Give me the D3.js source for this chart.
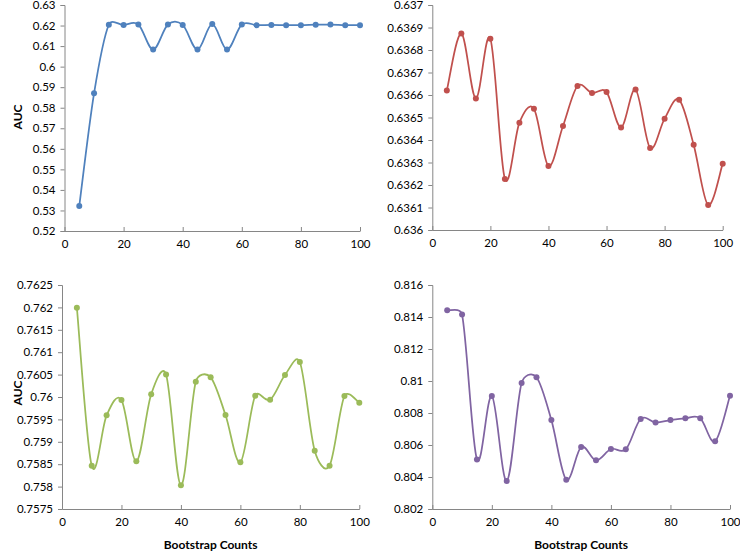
<!DOCTYPE html>
<html><head><meta charset="utf-8">
<script src="https://cdn.jsdelivr.net/npm/d3@7"></script>
<style>body{margin:0;background:#fff}svg{display:block}text{font-family:Lato,"Open Sans",sans-serif;fill:#000}</style>
</head><body>
<svg id="c" width="740" height="551"></svg>
<script>
const counts = [5,10,15,20,25,30,35,40,45,50,55,60,65,70,75,80,85,90,95,100];
const aucA = [0.5322,0.587,0.6204,0.6203,0.6205,0.6083,0.6205,0.6203,0.6083,0.6207,0.6083,0.6205,0.6202,0.6203,0.6202,0.6202,0.6204,0.6205,0.6202,0.6202];
const aucB = [0.63662,0.636873,0.636585,0.63685,0.636227,0.636477,0.636539,0.636284,0.636462,0.63664,0.636609,0.636613,0.636456,0.636624,0.636364,0.636495,0.636579,0.636379,0.636111,0.636295];
const aucC = [0.761994,0.758467,0.75959,0.759933,0.758564,0.76006,0.7605,0.758028,0.760342,0.760439,0.759598,0.758542,0.76003,0.75994,0.760491,0.760781,0.758802,0.758467,0.760022,0.759873];
const aucD = [0.81442,0.81415,0.8051,0.80906,0.80375,0.80987,0.81023,0.80756,0.80383,0.80588,0.80504,0.80575,0.80573,0.80763,0.8074,0.80756,0.80767,0.80767,0.80623,0.80908];
const xTicks = [0,20,40,60,80,100];
const yTicksA = [0.52,0.53,0.54,0.55,0.56,0.57,0.58,0.59,0.6,0.61,0.62,0.63];
const yTicksB = [0.636,0.6361,0.6362,0.6363,0.6364,0.6365,0.6366,0.6367,0.6368,0.6369,0.637];
const yTicksC = [0.7575,0.758,0.7585,0.759,0.7595,0.76,0.7605,0.761,0.7615,0.762,0.7625];
const yTicksD = [0.802,0.804,0.806,0.808,0.81,0.812,0.814,0.816];
const xLabel = "Bootstrap Counts";
const yLabel = "AUC";

// Spreadsheet-style smoothed line (Bezier with limited tangents)
function SmoothCurve(context){ this._context = context; }
SmoothCurve.prototype = {
  areaStart(){ this._line = 0; }, areaEnd(){ this._line = NaN; },
  lineStart(){ this._pts = []; },
  point(x,y){ this._pts.push([+x,+y]); },
  lineEnd(){
    const p = this._pts, c = this._context, n = p.length;
    if (!n) return;
    c.moveTo(p[0][0], p[0][1]);
    const dist = (a,b) => Math.hypot(a[0]-b[0], a[1]-b[1]);
    for (let i = 0; i < n-1; i++) {
      const p0 = p[i-1] || p[i], p1 = p[i], p2 = p[i+1], p3 = p[i+2] || p[i+1];
      const d12 = dist(p1,p2), d02 = dist(p0,p2), d13 = dist(p1,p3);
      let f1 = 1/6, f2 = 1/6;
      if (d02/6 > d12/2 && d02 > 0) f1 = d12/(2*d02);
      if (d13/6 > d12/2 && d13 > 0) f2 = d12/(2*d13);
      c.bezierCurveTo(p1[0] + f1*(p2[0]-p0[0]), p1[1] + f1*(p2[1]-p0[1]),
                      p2[0] - f2*(p3[0]-p1[0]), p2[1] - f2*(p3[1]-p1[1]),
                      p2[0], p2[1]);
    }
  }
};
const smoothCurve = ctx => new SmoothCurve(ctx);

const svg = d3.select("#c");
const panels = [
  {vals:aucA, ticks:yTicksA, color:"#4F81BD", x0:64.5, x1:360, yb:231, yt:5, ylabY:117, xlab:false},
  {vals:aucB, ticks:yTicksB, color:"#C0504D", x0:432.3, x1:722.7, yb:230, yt:5, ylabY:null, xlab:false},
  {vals:aucC, ticks:yTicksC, color:"#9BBB59", x0:62, x1:359.3, yb:509, yt:285, ylabY:393, xlab:true},
  {vals:aucD, ticks:yTicksD, color:"#8064A2", x0:432.3, x1:730, yb:509, yt:285, ylabY:null, xlab:true}
];
const fmt = v => String(+v.toFixed(5));
panels.forEach(p => {
  const x = d3.scaleLinear().domain([0,100]).range([p.x0,p.x1]);
  const y = d3.scaleLinear().domain([p.ticks[0], p.ticks[p.ticks.length-1]]).range([p.yb,p.yt]);
  const g = svg.append("g");
  const ya = g.append("g").attr("transform",`translate(${p.x0},0)`)
    .call(d3.axisLeft(y).tickValues(p.ticks).tickFormat(fmt).tickSize(4).tickPadding(5));
  const xa = g.append("g").attr("transform",`translate(0,${p.yb})`)
    .call(d3.axisBottom(x).tickValues(xTicks).tickFormat(d3.format("d")).tickSizeInner(-4).tickSizeOuter(0).tickPadding(9));
  [ya,xa].forEach(a => {
    a.selectAll("path,line").attr("stroke","#868686").attr("stroke-width",1);
    a.selectAll("text").attr("font-size",11.5).attr("font-family","Lato, 'Open Sans', sans-serif").attr("fill","#000");
  });
  const line = d3.line().x((d,i)=>x(counts[i])).y(d=>y(d)).curve(smoothCurve);
  g.append("path").datum(p.vals).attr("d",line).attr("fill","none").attr("stroke",p.color).attr("stroke-width",1.75);
  g.selectAll("circle").data(p.vals).enter().append("circle")
    .attr("cx",(d,i)=>x(counts[i])).attr("cy",d=>y(d)).attr("r",3).attr("fill",p.color);
  if (p.ylabY !== null) {
    g.append("text").attr("transform",`translate(22,${p.ylabY}) rotate(-90)`)
      .attr("text-anchor","middle").attr("font-size",12).attr("font-weight","bold").text(yLabel);
  }
  if (p.xlab) {
    g.append("text").attr("x",(p.x0+p.x1)/2).attr("y",549).attr("text-anchor","middle")
      .attr("font-size",12).attr("font-weight","bold").text(xLabel);
  }
});
</script>
</body></html>
